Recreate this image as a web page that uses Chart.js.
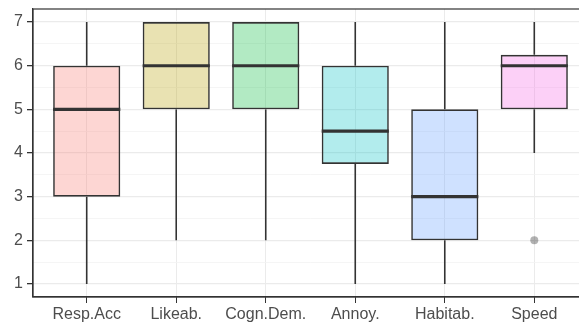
<!DOCTYPE html>
<html>
<head>
<meta charset="utf-8">
<script src="https://cdn.jsdelivr.net/npm/chart.js@4/dist/chart.umd.min.js"></script>
<style>
  html, body { margin: 0; padding: 0; background: #fff; overflow: hidden; }
  #wrap { width: 579px; height: 327px; overflow: hidden; }
</style>
</head>
<body>
<div id="wrap"><canvas id="c" width="592" height="327"></canvas></div>
<script>
// Questionnaire scales (1-7 rating) summarised as box plots
const categories = ['Resp.Acc', 'Likeab.', 'Cogn.Dem.', 'Annoy.', 'Habitab.', 'Speed'];
const whiskerLow  = [1, 2, 2, 1, 1, 4];
const q1          = [3, 5, 5, 3.75, 2, 5];
const median      = [5, 6, 6, 4.5, 3, 6];
const q3          = [6, 7, 7, 6, 5, 6.25];
const whiskerHigh = [7, 7, 7, 7, 7, 7];
const outlierCategory = [6];
const outlierValue    = [2];
const yTicks = [1, 2, 3, 4, 5, 6, 7];

const fills = [
  'rgba(248,118,109,0.3)',
  'rgba(183,159,0,0.3)',
  'rgba(0,186,56,0.3)',
  'rgba(0,191,196,0.3)',
  'rgba(97,156,255,0.3)',
  'rgba(245,100,227,0.3)'
];
const ink = '#333333';
const gridMajor = '#ebebeb';
const gridMinor = '#f3f3f3';
const labelFont = { family: '"Liberation Sans", Arial, sans-serif', size: 16 };

const positions = categories.map((_, i) => i + 1);

// whiskers under the boxes, medians on top of them
const boxExtras = {
  id: 'boxExtras',
  beforeDatasetsDraw(chart) {
    const { ctx, scales: { x, y } } = chart;
    ctx.save();
    ctx.strokeStyle = ink;
    ctx.lineWidth = 1.6;
    positions.forEach((p, i) => {
      const px = x.getPixelForValue(p);
      ctx.beginPath();
      ctx.moveTo(px, y.getPixelForValue(whiskerLow[i]));
      ctx.lineTo(px, y.getPixelForValue(q1[i]));
      ctx.moveTo(px, y.getPixelForValue(q3[i]));
      ctx.lineTo(px, y.getPixelForValue(whiskerHigh[i]));
      ctx.stroke();
    });
    ctx.restore();
  },
  afterDatasetsDraw(chart) {
    const { ctx, scales: { x, y } } = chart;
    ctx.save();
    ctx.strokeStyle = ink;
    ctx.lineWidth = 3.2;
    positions.forEach((p, i) => {
      const py = y.getPixelForValue(median[i]);
      ctx.beginPath();
      ctx.moveTo(x.getPixelForValue(p - 0.375), py);
      ctx.lineTo(x.getPixelForValue(p + 0.375), py);
      ctx.stroke();
    });
    ctx.restore();
  }
};

// panel border around the plotting area
const panelBorder = {
  id: 'panelBorder',
  afterDraw(chart) {
    const { ctx, chartArea: a } = chart;
    ctx.save();
    ctx.strokeStyle = ink;
    ctx.lineWidth = 1.2;
    ctx.strokeRect(a.left, a.top, a.right - a.left, a.bottom - a.top);
    ctx.restore();
  }
};

new Chart(document.getElementById('c'), {
  data: {
    datasets: [
      {
        type: 'bar',
        data: positions.map((p, i) => ({ x: p, y: [q1[i], q3[i]] })),
        backgroundColor: fills,
        borderColor: ink,
        borderWidth: 1.6,
        borderSkipped: false,
        barPercentage: 0.75,
        categoryPercentage: 1,
        order: 2
      },
      {
        type: 'scatter',
        data: outlierCategory.map((c, i) => ({ x: c, y: outlierValue[i] })),
        pointRadius: 4,
        pointBackgroundColor: 'rgba(0,0,0,0.3)',
        pointBorderWidth: 0,
        order: 1
      }
    ]
  },
  options: {
    responsive: false,
    animation: false,
    layout: { padding: { top: 9, right: 2.6, left: 0, bottom: 0 } },
    plugins: { legend: { display: false }, tooltip: { enabled: false } },
    scales: {
      x: {
        type: 'linear',
        offset: false,
        min: 0.4,
        max: 6.6,
        afterBuildTicks(scale) { scale.ticks = positions.map(v => ({ value: v })); },
        afterFit(scale) {
          scale.height = 30;
          scale.paddingLeft = 0;
          scale.paddingRight = 0;
        },
        ticks: {
          autoSkip: false,
          maxRotation: 0,
          padding: 2,
          color: '#4d4d4d',
          font: labelFont,
          callback: (v) => categories[Math.round(v) - 1] ?? ''
        },
        grid: { offset: false, color: gridMajor, lineWidth: 1, tickColor: ink, tickLength: 6 },
        border: { display: true, color: ink, width: 1.2 }
      },
      y: {
        type: 'linear',
        min: 0.7,
        max: 7.3,
        afterBuildTicks(scale) {
          const t = [];
          for (let k = 0; k < yTicks.length; k++) {
            t.push({ value: yTicks[k] });
            if (k < yTicks.length - 1) t.push({ value: (yTicks[k] + yTicks[k + 1]) / 2 });
          }
          scale.ticks = t;
        },
        afterFit(scale) {
          scale.width = 33;
          scale.paddingTop = 0;
          scale.paddingBottom = 0;
        },
        ticks: {
          autoSkip: false,
          padding: 4,
          color: '#4d4d4d',
          font: labelFont,
          callback: (v) => (yTicks.includes(v) ? String(v) : '')
        },
        grid: {
          color: (c) => (yTicks.includes(c.tick && c.tick.value) ? gridMajor : gridMinor),
          lineWidth: (c) => (yTicks.includes(c.tick && c.tick.value) ? 1.3 : 0.8),
          tickColor: (c) => (yTicks.includes(c.tick && c.tick.value) ? ink : 'rgba(0,0,0,0)'),
          tickLength: 6
        },
        border: { display: true, color: ink, width: 1.2 }
      }
    }
  },
  plugins: [boxExtras, panelBorder]
});
</script>
</body>
</html>
